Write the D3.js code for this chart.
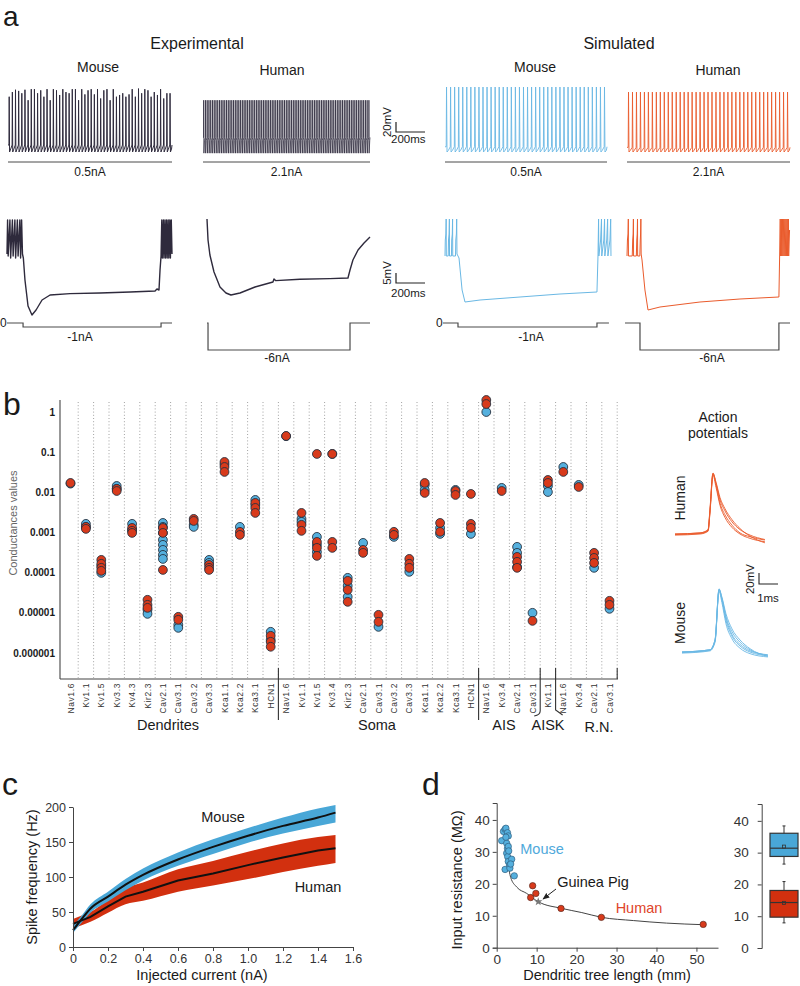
<!DOCTYPE html>
<html><head><meta charset="utf-8">
<script src="https://cdn.jsdelivr.net/npm/d3@7"></script>
<style>
body{margin:0;background:#fff;}
svg{display:block;font-family:"Liberation Sans",Arial,sans-serif;}
</style></head><body>
<svg id="fig" width="800" height="986"></svg>
<script>
// ================= DATA =================
// ---- Panel a: top row spike trains ----
const trainNames = ["expMouse", "expHuman", "simMouse", "simHuman"];
const trainSpikeCounts = [52, 95, 40, 41];
const trainThreshold = [-63, -50, -66, -67];   // mV
const trainTrough = [-75, -77, -75, -75];      // mV
const trainAHP = [-70, -55, -72, -72];         // mV
const trainPeakConst = [null, 14, 36.7, 28];   // mV (uniform peaks)
const expMousePeaks = [20, 28, 32, 30, 26, 32, 14, 33, 33, 26, 31, 20, 33, 14, 33, 31, 23, 33, 28, 26,
  33, 33, 14, 33, 24, 31, 33, 24, 33, 17, 31, 33, 14, 33, 20, 23, 26, 20, 24, 33,
  20, 34, 26, 33, 31, 20, 28, 23, 33, 17, 26, 26];
const topStepLabels = ["0.5nA", "2.1nA", "0.5nA", "2.1nA"];
const bottomStepLabels = ["-1nA", "-6nA", "-1nA", "-6nA"];
// ---- Panel a: bottom row (hyperpolarising step), [time ms, mV] ----
const expMouseHyper = [[0,-62],[4,-45],[8,-63],[20,-45],[25,-64],[37,-45],[42,-63],[54,-45],[59,-64],[71,-45],[76,-63],[88,-45],[93,-64],[100,-45],[106,-62],
  [112,-64],[123,-75],[144,-88],[171,-92.5],[199,-90],[240,-85],[295,-82.5],[432,-81.8],[637,-81.5],[843,-81],[1014,-80.5],[1027,-79.5],[1041,-80],[1048,-70],[1055,-63],
  [1060,-45],[1064,-64],[1071,-45],[1075,-64],[1082,-45],[1086,-64],[1093,-45],[1097,-64],[1104,-45],[1108,-64],[1115,-45],[1119,-64],[1125,-45],[1130,-62]];
const expHumanHyper = [[0,-44.5],[7,-55],[20,-62.5],[48,-71],[89,-78.5],[130,-81.5],[164,-82.5],[226,-81.5],[329,-78.5],[452,-76],[459,-74.5],[470,-75.3],
  [637,-74.6],[842,-74.3],[966,-74],[980,-70],[1000,-65],[1035,-60],[1076,-56.5],[1117,-53.5]];
const simMouseHyper = [[0,-63],[2,-55],[6,-52],[8,-44.5],[9,-63],[22,-63],[24,-55],[28,-52],[30,-44.5],[31,-63],[44,-63],[46,-55],[50,-52],[52,-44.5],[53,-63],
  [72,-63],[74,-55],[78,-52],[80,-44.5],[82,-62],[96,-64],[117,-80],[137,-86],[240,-85],[514,-83.5],[788,-82],[1041,-81],[1048,-63],[1052,-44.5],[1054,-63],
  [1066,-55],[1072,-44.5],[1074,-63],[1088,-55],[1093,-44.5],[1095,-63],[1108,-55],[1114,-44.5],[1116,-63],[1130,-55],[1135,-44.5],[1137,-63]];
const simHumanHyper = [[0,-63],[3,-55],[7,-52],[9,-44.5],[10,-63],[36,-63],[39,-55],[42,-52],[44,-44.5],[45,-63],[64,-63],[67,-55],[70,-52],[72,-44.5],[73,-63],
  [88,-63],[91,-55],[93,-52],[95,-44.5],[97,-62],[103,-65],[123,-80],[144,-90],[226,-88.5],[500,-86],[774,-84.5],[1041,-83.5],[1046,-63],[1050,-44.5],[1052,-63],
  [1058,-44.5],[1060,-63],[1066,-44.5],[1068,-63],[1074,-44.5],[1076,-63],[1082,-44.5],[1084,-63],[1090,-44.5],[1092,-63],[1098,-44.5],[1100,-63],[1106,-44.5],[1108,-63],[1114,-50]];
// current steps [time ms, nA]
const expMouseStep = [[0,0],[110,0],[110,-1],[1055,-1],[1055,0],[1130,0]];
const expHumanStep = [[0,0],[7,0],[7,-6],[980,-6],[980,0],[1117,0]];
const simMouseStep = [[-14,0],[89,0],[89,-1],[1041,-1],[1041,0],[1123,0]];
const simHumanStep = [[-14,0],[89,0],[89,-6],[1041,-6],[1041,0],[1117,0]];

// ---- Panel b: conductances ----
const channels = ["Nav1.6","Kv1.1","Kv1.5","Kv3.3","Kv4.3","Kir2.3","Cav2.1","Cav3.1","Cav3.2","Cav3.3","Kca1.1","Kca2.2","Kca3.1","HCN1",
  "Nav1.6","Kv1.1","Kv1.5","Kv3.4","Kir2.3","Cav2.1","Cav3.1","Cav3.2","Cav3.3","Kca1.1","Kca2.2","Kca3.1","HCN1",
  "Nav1.6","Kv3.4","Cav2.1","Cav3.1","Kv1.1","Nav1.6","Kv3.4","Cav2.1","Cav3.1"];
const sections = ["Dendrites","Soma","AIS","AISK","R.N."];
const sectionSizes = [14, 13, 4, 1, 4];
const yTickValues = [1, 0.1, 0.01, 0.001, 0.0001, 0.00001, 0.000001];
const yTickLabels = ["1","0.1","0.01","0.001","0.0001","0.00001","0.000001"];
const mouseCond = [
  [0.0165],[0.00164,0.00138],[0.000148,0.0000989],[0.0144,0.0122],[0.00164,0.00116],[0.0000119,0.00000944],
  [0.00173,0.00138,0.000977,0.000655,0.000492,0.000369,0.000277,0.00022],[0.00000503,0.00000423],[0.00155,0.00138],
  [0.000208,0.000175],[0.05],[0.00138],[0.00647,0.00486],[0.00000337,0.00000213],
  [0.25],[0.00218,0.00184],[0.000778,0.000492,0.000329],[0.0902],[0.0000743,0.000047,0.000025],[0.000551],[0.00000448],
  [0.000778],[0.000105],[0.0153,0.0115],[0.0013,0.000923],[0.0115],[0.000923],
  [1.0],[0.0129],[0.000439,0.000311,0.000139],[0.00001],
  [0.0144,0.0102],
  [0.0428],[0.0153],[0.000132],[0.0000126]];
const humanCond = [
  [0.0171],[0.00138,0.00123],[0.000208,0.000166,0.000132,0.000111],[0.0122,0.0108],[0.0013,0.0011,0.000977],[0.0000211,0.0000158,0.0000133],
  [0.0013,0.000977,0.000117],[0.00000795,0.0000067],[0.00218,0.00194],
  [0.000156,0.000132,0.000117],[0.0571,0.0428,0.0322],[0.00104,0.000871],[0.00545,0.00409,0.00307],[0.00000268,0.0000019,0.00000143],
  [0.253],[0.00307,0.00155,0.0011],[0.0902,0.000583,0.000414,0.000262],[0.0902,0.000583,0.000414],[0.0000625,0.0000373,0.0000188],[0.000369,0.000311],[0.00000891,0.00000597],
  [0.00104,0.000871],[0.00022,0.000166,0.000132],[0.0171,0.00966],[0.00173,0.00104],[0.0108,0.00861],[0.00912,0.00164,0.0013],
  [1.99,1.58],[0.0108],[0.000247,0.000186,0.000132],[0.00000632],
  [0.0203,0.0171],
  [0.0322],[0.0136],[0.000311,0.000233,0.000175],[0.0000199,0.0000158]];
// action potentials [ms] and [mV]
const apTimesHuman = [0, 1.32, 1.74, 1.84, 2.0, 2.16, 2.37, 2.63, 3.0, 3.42, 3.95, 4.73];
const humanAPs = [
  [-70,-68,-63,-27,41,19,-14,-35,-54,-68,-75,-81],
  [-71,-69,-64,-30,39,22,-8,-28,-48,-62,-72,-80],
  [-70,-68,-62,-25,40,24,-4,-24,-44,-60,-74,-86],
  [-72,-70,-65,-32,37,15,-18,-40,-58,-70,-78,-84]];
const apTimesMouse = [0, 1.47, 1.74, 1.95, 2.1, 2.31, 2.63, 3.05, 3.58, 4.52];
const mouseAPs = [
  [-70,-66,-48,45,25,-12,-41,-59,-70,-77],
  [-71,-67,-50,43,28,-5,-33,-52,-66,-76],
  [-70,-66,-47,44,30,0,-28,-48,-64,-78],
  [-72,-68,-52,40,20,-18,-46,-63,-73,-79],
  [-70,-66,-49,42,26,-8,-38,-56,-68,-75]];

// ---- Panel c: f-I curves ----
const currentNA = [0, 0.05, 0.1, 0.2, 0.3, 0.4, 0.6, 0.8, 1.0, 1.2, 1.4, 1.5];
const mouseFreq = [24, 40, 55, 72, 89, 103, 125, 143, 159, 173, 185, 192];
const mouseFreqLo = [20, 35, 49, 65, 81, 95, 116, 133, 149, 162, 173, 178];
const mouseFreqHi = [30, 45, 61, 79, 97, 112, 135, 154, 170, 185, 198, 203];
const humanFreq = [33, 38, 43, 58, 72, 79, 95, 105, 117, 128, 138, 141];
const humanFreqLo = [27, 31, 36, 49, 61, 66, 79, 88, 97, 107, 116, 120];
const humanFreqHi = [40, 45, 50, 67, 84, 92, 111, 123, 136, 148, 157, 160];
const cXTicks = [0, 0.2, 0.4, 0.6, 0.8, 1.0, 1.2, 1.4, 1.6];
const cXTickLabels = ["0","0.2","0.4","0.6","0.8","1.0","1.2","1.4","1.6"];
const cYTicks = [0, 50, 100, 150, 200];

// ---- Panel d: input resistance vs dendritic length ----
const mouseLen = [1.25, 1.7, 2.1, 2.3, 2.7, 2.1, 2.5, 2.7, 2.9, 2.5, 2.75, 2.9, 3.2, 3.3, 3.75, 3.5, 4.4, 2.9, 2.3, 3.0];
const mouseRin = [33.5, 36.4, 37.1, 37.4, 36, 24.5, 32.7, 31.1, 31.7, 29.6, 28.5, 27, 25.9, 24.9, 27.7, 26.2, 22.5, 35, 34.6, 30.3];
const humanLen = [8.5, 9.0, 9.8, 16.1, 26.2, 51.7];
const humanRin = [15.7, 19.4, 17.0, 12.3, 9.5, 7.3];
const guineaLen = [10.4];
const guineaRin = [14.4];
const fitLen = [2.3, 2.5, 2.8, 3.1, 3.5, 5, 7.5, 10.4, 16.3, 21.3, 26.3, 34.2, 42.5, 51.7];
const fitRin = [37.5, 33, 28, 24.5, 22, 19, 17, 14.4, 12.3, 11, 9.5, 8.5, 7.7, 7.2];
const dXTicks = [0, 10, 20, 30, 40, 50];
const dYTicks = [0, 10, 20, 30, 40];
const boxSpecies = ["Mouse", "Human"];
const boxQ1 = [28.8, 9.7];
const boxMedian = [31.4, 14.3];
const boxQ3 = [36.1, 18.1];
const boxMean = [31.9, 14.2];
const boxWhiskLo = [26.4, 7.9];
const boxWhiskHi = [38.4, 20.9];

// ================= STYLE =================
const C = {
  exp: "#2e2a3c", simMouse: "#6ab8e4", simHuman: "#ea5b2c", step: "#4a4a4a",
  blue: "#55b0de", red: "#d83a1b", dotStroke: "#263140", text: "#1a1a1a",
  bandBlue: "#49a7d7", bandRed: "#d2300f", mouseText: "#4fa9db", humanText: "#e0452a"
};
const svg = d3.select("#fig");

function text(g, x, y, s, o = {}) {
  const t = g.append("text").attr("x", x).attr("y", y).text(s)
    .attr("font-size", o.size || 12).attr("fill", o.fill || C.text)
    .attr("text-anchor", o.anchor || "start");
  if (o.weight) t.attr("font-weight", o.weight);
  if (o.rotate) t.attr("transform", `rotate(${o.rotate},${x},${y})`);
  if (o.ls) t.attr("letter-spacing", o.ls);
  return t;
}

// ================= PANEL A =================
const gA = svg.append("g");
text(gA, 3, 25.5, "a", { size: 28 });
text(gA, 197, 49, "Experimental", { size: 16, anchor: "middle" });
text(gA, 619, 49, "Simulated", { size: 16, anchor: "middle" });
text(gA, 98, 72, "Mouse", { size: 14, anchor: "middle" });
text(gA, 282, 75, "Human", { size: 14, anchor: "middle" });
text(gA, 535, 72, "Mouse", { size: 14, anchor: "middle" });
text(gA, 718, 75, "Human", { size: 14, anchor: "middle" });

const topX = [[8, 172], [203, 370], [445, 607], [627, 790]];
const traceColors = [C.exp, C.exp, C.simMouse, C.simHuman];
const traceWidths = [1.0, 0.75, 0.9, 0.9];
const yTop = d3.scaleLinear().domain([-75, 35]).range([152, 88]);
const line = d3.line();

trainNames.forEach((name, k) => {
  const T = 1000;
  const x = d3.scaleLinear().domain([0, T]).range(topX[k]);
  const n = trainSpikeCounts[k];
  const isi = T / n;
  const pts = [[0, trainThreshold[k]]];
  for (let i = 0; i < n; i++) {
    const t = i * isi + 0.3 * isi;
    const pk = trainPeakConst[k] !== null ? trainPeakConst[k] : expMousePeaks[i];
    pts.push([t, trainThreshold[k]]);
    pts.push([t + 0.08 * isi, pk]);
    pts.push([t + 0.2 * isi, trainTrough[k]]);
    pts.push([t + 0.55 * isi, trainAHP[k]]);
  }
  pts.push([T, trainThreshold[k]]);
  gA.append("path").attr("d", line(pts.map(p => [x(p[0]), yTop(p[1])])))
    .attr("fill", "none").attr("stroke", traceColors[k]).attr("stroke-width", traceWidths[k])
    .attr("stroke-linejoin", "round");
  // step line
  gA.append("line").attr("x1", topX[k][0]).attr("x2", topX[k][1]).attr("y1", 162).attr("y2", 162)
    .attr("stroke", C.step).attr("stroke-width", 1);
  text(gA, (topX[k][0] + topX[k][1]) / 2, 176, topStepLabels[k], { size: 12, anchor: "middle" });
});

// scale bars
function scaleBar(g, x0, yb, vlen, hlen, vlabel, hlabel, hy) {
  g.append("path").attr("d", `M${x0},${yb - vlen}V${yb}H${x0 + hlen}`)
    .attr("fill", "none").attr("stroke", "#222").attr("stroke-width", 1.2);
  text(g, x0 - 5, yb - vlen / 2 - 5, vlabel, { size: 11.5, anchor: "middle", rotate: -90 });
  text(g, x0 - 5, hy, hlabel, { size: 11.5 });
}
scaleBar(gA, 396, 132, 10, 29, "20mV", "200ms", 143);
scaleBar(gA, 396, 283, 10, 29, "5mV", "200ms", 297);

// bottom row
const yBot = d3.scaleLinear().domain([-100, -40]).range([330, 210]);
const hyperTraces = [expMouseHyper, expHumanHyper, simMouseHyper, simHumanHyper];
const hyperDomains = [[0, 1130], [0, 1117], [0, 1144], [0, 1117]];
const hyperRanges = [[7, 172], [207, 370], [445, 612], [627, 790]];
const steps = [expMouseStep, expHumanStep, simMouseStep, simHumanStep];
const stepMin = [-1, -6, -1, -6];
const stepLow = [327, 350, 327, 350];
const stepLabelX = [80, 277, 531, 712];
const stepLabelY = [341, 362, 341, 362];
hyperTraces.forEach((tr, k) => {
  const x = d3.scaleLinear().domain(hyperDomains[k]).range(hyperRanges[k]);
  gA.append("path").attr("d", line(tr.map(p => [x(p[0]), yBot(Math.min(p[1], -44.5))])))
    .attr("fill", "none").attr("stroke", traceColors[k]).attr("stroke-width", k < 2 ? 1.4 : 1)
    .attr("stroke-linejoin", "round");
  const yc = d3.scaleLinear().domain([stepMin[k], 0]).range([stepLow[k], 323]);
  gA.append("path").attr("d", line(steps[k].map(p => [x(p[0]), yc(p[1])])))
    .attr("fill", "none").attr("stroke", C.step).attr("stroke-width", 1.2);
  text(gA, stepLabelX[k], stepLabelY[k], bottomStepLabels[k], { size: 12, anchor: "middle" });
});
text(gA, 0, 327, "0", { size: 12 });
text(gA, 436, 327, "0", { size: 12 });

// ================= PANEL B =================
const gB = svg.append("g");
text(gB, 3, 415, "b", { size: 32 });
const xB = d3.scaleBand().domain(d3.range(channels.length)).range([62.8, 617.2]).padding(0);
const yB = d3.scaleLog().domain([1e-6, 1]).range([653, 412]);
const step = xB.step();
// dotted grid lines
for (let i = 1; i <= channels.length; i++) {
  const xx = xB(0) + i * step;
  gB.append("line").attr("x1", xx).attr("x2", xx).attr("y1", 402).attr("y2", 678)
    .attr("stroke", "#8a8a8a").attr("stroke-width", 0.8).attr("stroke-dasharray", "1,2.2");
}
// axes
gB.append("line").attr("x1", 60).attr("x2", 60).attr("y1", yB(2)).attr("y2", yB(2.25e-7))
  .attr("stroke", "#444").attr("stroke-width", 1.1);
gB.append("line").attr("x1", 60).attr("x2", 618).attr("y1", 679).attr("y2", 679)
  .attr("stroke", "#444").attr("stroke-width", 1.1);
yTickValues.forEach((v, i) => {
  text(gB, 55, yB(v) + 3.5, yTickLabels[i], { size: 10, anchor: "end", weight: "bold" });
});
text(gB, 17, 523, "Conductances values", { size: 11, anchor: "middle", rotate: -90, fill: "#666" });
// channel labels
channels.forEach((c, i) => {
  const cx = xB(i) + step / 2 + 3;
  text(gB, cx, 683, c, { size: 8.5, anchor: "end", rotate: -90, fill: "#333", ls: 0.6 });
});
// section separators
let acc = 0;
const bounds = sectionSizes.map(s => { acc += s; return acc; });
const bx = bounds.map(b => xB(0) + b * step);
[bx[0], bx[1]].forEach(xx => {
  gB.append("line").attr("x1", xx).attr("x2", xx).attr("y1", 668).attr("y2", 720)
    .attr("stroke", "#333").attr("stroke-width", 1.1);
});
gB.append("path").attr("d", `M${bx[2]},668V711Q${bx[2]},715 ${bx[2] - 6},716`)
  .attr("fill", "none").attr("stroke", "#333").attr("stroke-width", 1.1);
gB.append("path").attr("d", `M${bx[3]},668V710L${bx[3] + 7},715`)
  .attr("fill", "none").attr("stroke", "#333").attr("stroke-width", 1.1);
gB.append("line").attr("x1", bx[4]).attr("x2", bx[4]).attr("y1", 668).attr("y2", 679)
  .attr("stroke", "#333").attr("stroke-width", 1.1);
// section labels
const secCenters = [168, 377, 504, 548, 599];
sections.forEach((s, i) => text(gB, secCenters[i], i === 4 ? 732 : 730, s, { size: 14.5, anchor: "middle" }));
// dots
const dotG = gB.append("g");
mouseCond.forEach((vals, i) => vals.forEach(v => {
  dotG.append("circle").attr("cx", xB(i) + step / 2).attr("cy", yB(v)).attr("r", 4.4)
    .attr("fill", C.blue).attr("stroke", C.dotStroke).attr("stroke-width", 0.9);
}));
humanCond.forEach((vals, i) => vals.forEach(v => {
  dotG.append("circle").attr("cx", xB(i) + step / 2).attr("cy", yB(v)).attr("r", 4.4)
    .attr("fill", C.red).attr("stroke", C.dotStroke).attr("stroke-width", 0.9);
}));

// action potentials
text(gB, 718, 422, "Action", { size: 14, anchor: "middle" });
text(gB, 718, 438, "potentials", { size: 14, anchor: "middle" });
text(gB, 685, 498, "Human", { size: 14, anchor: "middle", rotate: -90 });
text(gB, 685, 623, "Mouse", { size: 14, anchor: "middle", rotate: -90 });
const apX_h = d3.scaleLinear().domain([0, 1]).range([675, 694]);
const apY_h = d3.scaleLinear().domain([-70, -50]).range([534, 523]);
const apX_m = d3.scaleLinear().domain([0, 1]).range([682, 701]);
const apY_m = d3.scaleLinear().domain([-70, -50]).range([652, 641]);
humanAPs.forEach(tr => {
  gB.append("path").attr("d", d3.line().curve(d3.curveMonotoneX)(tr.map((v, i) => [apX_h(apTimesHuman[i]), apY_h(v)])))
    .attr("fill", "none").attr("stroke", C.simHuman).attr("stroke-width", 1).attr("opacity", 0.9);
});
mouseAPs.forEach(tr => {
  gB.append("path").attr("d", d3.line().curve(d3.curveMonotoneX)(tr.map((v, i) => [apX_m(apTimesMouse[i]), apY_m(v)])))
    .attr("fill", "none").attr("stroke", C.simMouse).attr("stroke-width", 1).attr("opacity", 0.9);
});
gB.append("path").attr("d", `M759,573V584H778`).attr("fill", "none").attr("stroke", "#222").attr("stroke-width", 1.1);
text(gB, 754, 579, "20mV", { size: 11.5, anchor: "middle", rotate: -90 });
text(gB, 768, 602, "1ms", { size: 11.5, anchor: "middle" });

// ================= PANEL C =================
const gC = svg.append("g");
text(gC, 2, 795, "c", { size: 32 });
const xC = d3.scaleLinear().domain([0, 1.6]).range([73, 353]);
const yC = d3.scaleLinear().domain([0, 200]).range([947, 807]);
const area = d3.area().curve(d3.curveMonotoneX);
gC.append("path").attr("d", area.x((d, i) => xC(currentNA[i])).y0((d, i) => yC(humanFreqLo[i])).y1((d, i) => yC(humanFreqHi[i]))(currentNA))
  .attr("fill", C.bandRed);
gC.append("path").attr("d", area.x((d, i) => xC(currentNA[i])).y0((d, i) => yC(mouseFreqLo[i])).y1((d, i) => yC(mouseFreqHi[i]))(currentNA))
  .attr("fill", C.bandBlue);
gC.append("path").attr("d", d3.line().curve(d3.curveMonotoneX)(currentNA.map((c, i) => [xC(c), yC(mouseFreq[i])])))
  .attr("fill", "none").attr("stroke", "#111").attr("stroke-width", 2);
gC.append("path").attr("d", d3.line()(currentNA.map((c, i) => [xC(c), yC(humanFreq[i])])))
  .attr("fill", "none").attr("stroke", "#111").attr("stroke-width", 2);
const axC_x = gC.append("g").attr("transform", "translate(0,947)")
  .call(d3.axisBottom(xC).tickValues(cXTicks).tickFormat((d, i) => cXTickLabels[i]).tickSize(4).tickSizeOuter(0));
const axC_y = gC.append("g").attr("transform", "translate(73,0)")
  .call(d3.axisLeft(yC).tickValues(cYTicks).tickSize(4).tickSizeOuter(0));
[axC_x, axC_y].forEach(a => {
  a.selectAll("text").attr("font-size", 12.5).attr("fill", "#333");
  a.selectAll("path,line").attr("stroke", "#444");
  a.attr("font-family", null);
});
text(gC, 37, 877, "Spike frequency (Hz)", { size: 14.5, anchor: "middle", rotate: -90 });
text(gC, 202, 980, "Injected current (nA)", { size: 14.5, anchor: "middle" });
text(gC, 223, 822, "Mouse", { size: 14.5, anchor: "middle" });
text(gC, 318, 892, "Human", { size: 14.5, anchor: "middle" });

// ================= PANEL D =================
const gD = svg.append("g");
text(gD, 422, 795, "d", { size: 32 });
const xD = d3.scaleLinear().domain([0, 55.4]).range([496.7, 718]);
const yD = d3.scaleLinear().domain([0, 45.3]).range([947.7, 803]);
gD.append("path").attr("d", d3.line().curve(d3.curveMonotoneX)(fitLen.map((l, i) => [xD(l), yD(fitRin[i])])))
  .attr("fill", "none").attr("stroke", "#444").attr("stroke-width", 1);
mouseLen.forEach((l, i) => gD.append("circle").attr("cx", xD(l)).attr("cy", yD(mouseRin[i])).attr("r", 3.2)
  .attr("fill", C.blue).attr("stroke", "#2f5f80").attr("stroke-width", 0.7));
humanLen.forEach((l, i) => gD.append("circle").attr("cx", xD(l)).attr("cy", yD(humanRin[i])).attr("r", 3.2)
  .attr("fill", C.red).attr("stroke", "#5a2a20").attr("stroke-width", 0.7));
guineaLen.forEach((l, i) => gD.append("path").attr("d", d3.symbol(d3.symbolStar, 22)())
  .attr("transform", `translate(${xD(l)},${yD(guineaRin[i])})`).attr("fill", "#777"));
const axD_x = gD.append("g").attr("transform", "translate(0,947.7)")
  .call(d3.axisBottom(xD).tickValues(dXTicks).tickSize(4).tickSizeOuter(0));
const axD_y = gD.append("g").attr("transform", "translate(496.7,0)")
  .call(d3.axisLeft(yD).tickValues(dYTicks).tickSize(4).tickSizeOuter(4));
// box plot axis
const yBox = d3.scaleLinear().domain([0, 45.3]).range([948, 804]);
const axBox = gD.append("g").attr("transform", "translate(761.7,0)")
  .call(d3.axisLeft(yBox).tickValues(dYTicks).tickSize(4).tickPadding(9).tickSizeOuter(4));
[axD_x, axD_y, axBox].forEach(a => {
  a.selectAll("text").attr("font-size", 13.5).attr("fill", "#333");
  a.selectAll("path,line").attr("stroke", "#444");
  a.attr("font-family", null);
});
text(gD, 462, 880, "Input resistance (MΩ)", { size: 14.5, anchor: "middle", rotate: -90 });
text(gD, 607, 980, "Dendritic tree length (mm)", { size: 14.5, anchor: "middle" });
text(gD, 542, 854, "Mouse", { size: 14.5, anchor: "middle", fill: C.mouseText });
text(gD, 593, 887, "Guinea Pig", { size: 14.5, anchor: "middle" });
text(gD, 639, 913, "Human", { size: 14.5, anchor: "middle", fill: C.humanText });
svg.append("defs").append("marker").attr("id", "arr").attr("viewBox", "0 0 10 10").attr("refX", 9).attr("refY", 5)
  .attr("markerWidth", 7).attr("markerHeight", 7).attr("orient", "auto")
  .append("path").attr("d", "M0,1L10,5L0,9Z").attr("fill", "#222");
gD.append("line").attr("x1", 556).attr("y1", 889).attr("x2", 543).attr("y2", 899)
  .attr("stroke", "#222").attr("stroke-width", 1).attr("marker-end", "url(#arr)");
// boxes
const boxFill = [C.bandBlue, C.bandRed];
boxSpecies.forEach((s, i) => {
  const x0 = 770, x1 = 798, xm = 784;
  gD.append("line").attr("x1", xm).attr("x2", xm).attr("y1", yBox(boxWhiskLo[i])).attr("y2", yBox(boxWhiskHi[i]))
    .attr("stroke", "#333").attr("stroke-width", 1);
  [boxWhiskLo[i], boxWhiskHi[i]].forEach(v => gD.append("line").attr("x1", xm - 1.5).attr("x2", xm + 1.5)
    .attr("y1", yBox(v)).attr("y2", yBox(v)).attr("stroke", "#333"));
  gD.append("rect").attr("x", x0).attr("width", x1 - x0).attr("y", yBox(boxQ3[i]))
    .attr("height", yBox(boxQ1[i]) - yBox(boxQ3[i])).attr("fill", boxFill[i]).attr("stroke", "#333").attr("stroke-width", 1.2);
  gD.append("line").attr("x1", x0).attr("x2", x1).attr("y1", yBox(boxMedian[i])).attr("y2", yBox(boxMedian[i]))
    .attr("stroke", "#333").attr("stroke-width", 1.2);
  gD.append("rect").attr("x", xm - 1.5).attr("y", yBox(boxMean[i]) - 1.5).attr("width", 3).attr("height", 3)
    .attr("fill", "none").attr("stroke", "#333").attr("stroke-width", 0.8);
});
</script></body></html>
